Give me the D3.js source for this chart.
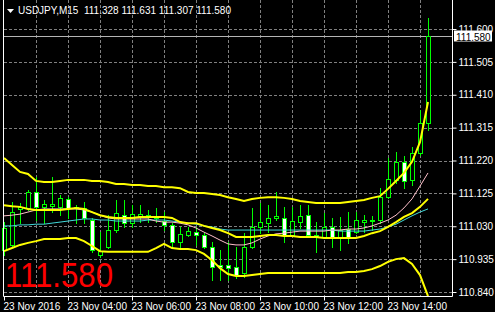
<!DOCTYPE html>
<html>
<head>
<meta charset="utf-8">
<script src="https://cdn.jsdelivr.net/npm/d3@7"></script>
<style>
  html, body { margin: 0; padding: 0; background: #000; }
  svg { display: block; }
  text { font-family: "Liberation Sans", Arial, sans-serif; }
</style>
</head>
<body>
<div id="chart"></div>
<script>
// ---- data (USDJPY M15, 23 Nov 2016, 02:00 .. 15:15) ----
var symbolTitle = 'USDJPY,M15  111.328 111.631 111.307 111.580';
var startTime = new Date(2016, 10, 23, 2, 0);
var lastPrice = 111.580;

var opens = [110.961, 110.976, 111.080, 111.083, 111.129, 111.086, 111.088, 111.086, 111.109, 111.086,
  111.083, 111.048, 110.947, 110.970, 111.019, 111.062, 111.039, 111.060, 111.062, 111.057,
  111.045, 111.034, 110.984, 111.005, 111.013, 111.005, 110.970, 110.918, 110.918, 110.912,
  110.895, 110.970, 111.028, 111.039, 111.054, 111.054, 111.005, 111.042, 111.062, 111.005,
  110.999, 111.028, 110.996, 111.022, 111.013, 111.042, 111.048, 111.048, 111.114, 111.164,
  111.216, 111.164, 111.242, 111.328];
var highs = [111.042, 111.100, 111.097, 111.135, 111.172, 111.106, 111.172, 111.120, 111.114, 111.091,
  111.100, 111.054, 111.013, 111.062, 111.106, 111.106, 111.091, 111.091, 111.077, 111.083,
  111.071, 111.039, 111.028, 111.028, 111.028, 111.010, 110.984, 110.961, 110.984, 110.970,
  111.010, 111.083, 111.097, 111.091, 111.129, 111.086, 111.086, 111.091, 111.091, 111.042,
  111.068, 111.054, 111.057, 111.071, 111.071, 111.062, 111.060, 111.140, 111.227, 111.245,
  111.233, 111.259, 111.366, 111.631];
var lows = [110.947, 110.970, 111.039, 111.077, 111.048, 111.039, 111.071, 111.062, 111.054, 111.039,
  111.039, 110.956, 110.941, 110.967, 111.013, 111.028, 111.028, 111.042, 111.042, 111.042,
  111.019, 110.967, 110.970, 111.002, 110.976, 110.967, 110.875, 110.875, 110.875, 110.880,
  110.883, 110.967, 111.010, 111.013, 111.048, 110.984, 111.002, 111.025, 110.999, 110.956,
  110.996, 110.970, 110.961, 110.982, 111.010, 111.013, 111.019, 111.039, 111.112, 111.155,
  111.140, 111.149, 111.236, 111.307];
var closes = [111.025, 111.071, 111.086, 111.129, 111.086, 111.094, 111.094, 111.112, 111.083, 111.083,
  111.054, 110.961, 110.958, 111.019, 111.068, 111.039, 111.065, 111.065, 111.057, 111.054,
  111.034, 110.984, 111.008, 111.016, 111.005, 110.970, 110.912, 110.912, 110.909, 110.889,
  110.970, 111.028, 111.042, 111.054, 111.060, 111.005, 111.045, 111.060, 111.005, 110.999,
  111.028, 110.996, 111.019, 110.999, 111.048, 111.048, 111.045, 111.114, 111.167, 111.216,
  111.161, 111.242, 111.328, 111.580];

var upperBand = [111.227, 111.207, 111.187, 111.181, 111.161, 111.158, 111.158, 111.161, 111.164, 111.164,
  111.164, 111.161, 111.161, 111.158, 111.152, 111.152, 111.149, 111.149, 111.146, 111.146,
  111.143, 111.143, 111.140, 111.129, 111.126, 111.126, 111.123, 111.120, 111.114, 111.109,
  111.103, 111.109, 111.112, 111.114, 111.114, 111.112, 111.109, 111.103, 111.100, 111.097,
  111.097, 111.097, 111.097, 111.100, 111.103, 111.106, 111.112, 111.117, 111.138, 111.161,
  111.184, 111.216, 111.273, 111.389];
var middleBand = [111.091, 111.088, 111.086, 111.080, 111.077, 111.077, 111.077, 111.077, 111.080, 111.083,
  111.080, 111.071, 111.062, 111.057, 111.054, 111.054, 111.054, 111.057, 111.057, 111.057,
  111.057, 111.054, 111.042, 111.039, 111.039, 111.031, 111.025, 111.019, 111.010, 110.999,
  110.999, 110.999, 111.002, 111.005, 111.005, 111.002, 111.002, 110.999, 110.999, 110.999,
  110.996, 110.996, 110.996, 110.996, 110.996, 111.002, 111.010, 111.016, 111.028, 111.042,
  111.057, 111.068, 111.086, 111.109];
var lowerBand = [110.958, 110.967, 110.976, 110.982, 110.987, 110.993, 110.993, 110.993, 110.996, 110.996,
  110.987, 110.973, 110.958, 110.956, 110.956, 110.956, 110.956, 110.956, 110.956, 110.967,
  110.979, 110.967, 110.964, 110.964, 110.961, 110.950, 110.932, 110.909, 110.892, 110.886,
  110.886, 110.889, 110.892, 110.895, 110.895, 110.895, 110.895, 110.895, 110.895, 110.895,
  110.895, 110.895, 110.895, 110.898, 110.898, 110.901, 110.906, 110.915, 110.927, 110.935,
  110.938, 110.921, 110.889, 110.828];
var pinkMa = [111.060, 111.062, 111.065, 111.071, 111.077, 111.080, 111.080, 111.080, 111.080, 111.080,
  111.077, 111.071, 111.062, 111.054, 111.051, 111.051, 111.051, 111.051, 111.051, 111.045,
  111.042, 111.042, 111.039, 111.034, 111.025, 111.013, 111.002, 110.990, 110.979, 110.976,
  110.976, 110.982, 110.993, 111.002, 111.008, 111.010, 111.013, 111.016, 111.016, 111.016,
  111.016, 111.019, 111.019, 111.022, 111.022, 111.025, 111.031, 111.039, 111.048, 111.062,
  111.083, 111.109, 111.146, 111.184];
var cyanMa = [111.031, 111.031, 111.034, 111.034, 111.036, 111.036, 111.039, 111.042, 111.045, 111.048,
  111.051, 111.051, 111.048, 111.048, 111.045, 111.045, 111.045, 111.045, 111.048, 111.048,
  111.048, 111.045, 111.042, 111.039, 111.036, 111.031, 111.028, 111.022, 111.019, 111.019,
  111.019, 111.019, 111.019, 111.019, 111.019, 111.019, 111.019, 111.019, 111.019, 111.019,
  111.019, 111.019, 111.016, 111.016, 111.016, 111.016, 111.019, 111.022, 111.028, 111.036,
  111.048, 111.060, 111.071, 111.080];

var priceTicks = [111.600, 111.505, 111.410, 111.315, 111.220, 111.125, 111.030, 110.935, 110.840];
var timeTickLabels = ['23 Nov 2016', '23 Nov 04:00', '23 Nov 06:00', '23 Nov 08:00',
  '23 Nov 10:00', '23 Nov 12:00', '23 Nov 14:00'];

// ---- layout ----
var W = 495, H = 312;
var plotL = 3, plotR = 452, plotT = 0, plotB = 296;
var barMs = 15 * 60 * 1000;

function barTime(i) { return new Date(startTime.getTime() + i * barMs); }

var svg = d3.select('#chart').append('svg')
  .attr('width', W).attr('height', H)
  .attr('viewBox', [0, 0, W, H]);

svg.append('rect').attr('width', W).attr('height', H).attr('fill', '#000');

var x = d3.scaleTime()
  .domain([startTime, barTime(opens.length - 1)])
  .range([4, 428]);
var y = d3.scaleLinear()
  .domain([110.840, 111.600])
  .range([292, 29]);

function px(v) { return Math.round(v) + 0.5; }

// grid
var grid = svg.append('g').attr('stroke', '#808080').attr('stroke-dasharray', '3,2').attr('stroke-width', 1);
var hourLines = d3.timeHour.range(d3.timeHour.offset(startTime, 1), d3.timeHour.offset(barTime(opens.length - 1), 1));
grid.selectAll('line.v').data(hourLines).enter().append('line')
  .attr('x1', function (d) { return px(x(d)); })
  .attr('x2', function (d) { return px(x(d)); })
  .attr('y1', plotT).attr('y2', plotB);
grid.selectAll('line.h').data(priceTicks).enter().append('line')
  .attr('x1', plotL + 1).attr('x2', plotR)
  .attr('y1', function (d) { return px(y(d)); })
  .attr('y2', function (d) { return px(y(d)); });

// big price text
svg.append('text')
  .attr('x', 5).attr('y', 287)
  .attr('fill', '#ff0000')
  .attr('font-size', 35)
  .attr('textLength', 108)
  .attr('lengthAdjust', 'spacingAndGlyphs')
  .text(d3.format('.3f')(lastPrice));

// bid line
svg.append('line')
  .attr('x1', plotL + 1).attr('x2', plotR)
  .attr('y1', px(y(lastPrice))).attr('y2', px(y(lastPrice)))
  .attr('stroke', '#b4b4b4');

// candles
var idx = d3.range(opens.length);
var candles = svg.append('g');
candles.selectAll('line').data(idx).enter().append('line')
  .attr('x1', function (i) { return px(x(barTime(i))); })
  .attr('x2', function (i) { return px(x(barTime(i))); })
  .attr('y1', function (i) { return Math.round(y(highs[i])); })
  .attr('y2', function (i) { return Math.round(y(lows[i])) + 1; })
  .attr('stroke', '#00ff00');
candles.selectAll('rect').data(idx).enter().append('rect')
  .attr('x', function (i) { return Math.round(x(barTime(i))) - 2 + 0.5; })
  .attr('width', 4)
  .attr('y', function (i) { return px(y(Math.max(opens[i], closes[i]))); })
  .attr('height', function (i) {
    return Math.max(1, Math.round(y(Math.min(opens[i], closes[i]))) - Math.round(y(Math.max(opens[i], closes[i]))));
  })
  .attr('fill', function (i) { return closes[i] >= opens[i] ? '#000' : '#fff'; })
  .attr('stroke', '#00ff00');

// indicator lines
var line = d3.line()
  .x(function (d, i) { return x(barTime(i)); })
  .y(function (d) { return y(d); });
[[cyanMa, '#40d8d8', 1], [pinkMa, '#ffc0cb', 1],
 [lowerBand, '#ffff00', 2], [middleBand, '#ffff00', 2], [upperBand, '#ffff00', 2]]
  .forEach(function (s) {
    svg.append('path').datum(s[0])
      .attr('d', line)
      .attr('fill', 'none')
      .attr('stroke', s[1])
      .attr('stroke-width', s[2]);
  });

// frame
svg.append('path')
  .attr('d', 'M' + (plotL + 0.5) + ',0V' + (plotB + 0.5) + 'H' + (plotR + 0.5) + 'V0')
  .attr('fill', 'none').attr('stroke', '#fff');

// price axis
var yAxis = d3.axisRight(y).tickValues(priceTicks).tickFormat(d3.format('.3f')).tickSize(4).tickPadding(2);
var ya = svg.append('g').attr('transform', 'translate(' + (plotR + 0.5) + ',0)').call(yAxis);
ya.select('.domain').remove();
ya.selectAll('line').attr('stroke', '#fff');
ya.selectAll('text').attr('fill', '#fff').attr('font-size', 10)
  .attr('font-family', '"Liberation Sans", Arial, sans-serif');

// time axis
var timeTicks = d3.range(timeTickLabels.length).map(function (k) { return barTime(k * 8); });
var xAxis = d3.axisBottom(x).tickValues(timeTicks)
  .tickFormat(function (d, k) { return timeTickLabels[k]; })
  .tickSize(4).tickPadding(2);
var xa = svg.append('g').attr('transform', 'translate(0,' + (plotB + 0.5) + ')').call(xAxis);
xa.select('.domain').remove();
xa.selectAll('line').attr('stroke', '#fff');
xa.selectAll('text').attr('fill', '#fff').attr('font-size', 10)
  .attr('text-anchor', 'start').attr('dx', -1)
  .attr('font-family', '"Liberation Sans", Arial, sans-serif');

// last price label
var ly = px(y(lastPrice));
svg.append('rect').attr('x', 454).attr('y', ly - 6).attr('width', 38).attr('height', 11).attr('fill', '#fff');
svg.append('text').attr('x', 456).attr('y', ly + 4)
  .attr('fill', '#000').attr('font-size', 10).text(d3.format('.3f')(lastPrice));

// title
svg.append('path').attr('d', 'M7,9H14L10.5,13Z').attr('fill', '#fff');
svg.append('text').attr('x', 18).attr('y', 14)
  .attr('fill', '#fff').attr('font-size', 10)
  .attr('xml:space', 'preserve')
  .style('white-space', 'pre')
  .text(symbolTitle);
</script>
</body>
</html>
